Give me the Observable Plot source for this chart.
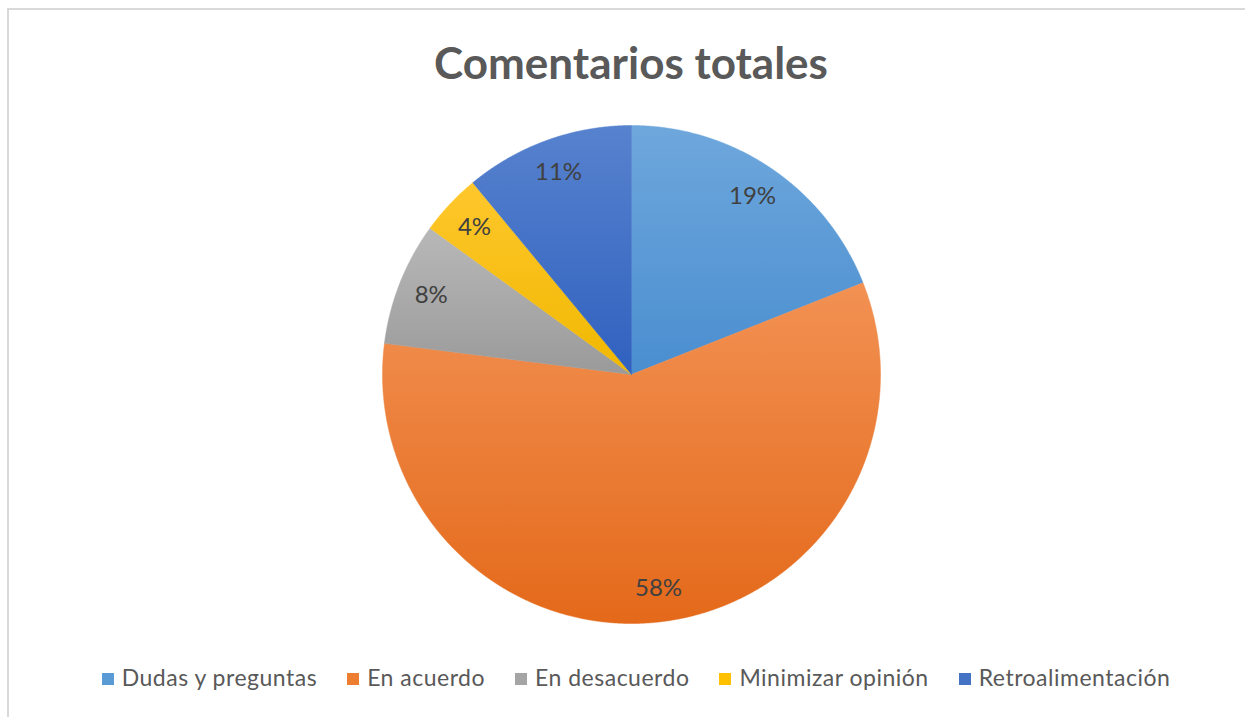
<!DOCTYPE html>
<html><head><meta charset="utf-8">
<script src="https://cdn.jsdelivr.net/npm/d3@7"></script>
<script src="https://cdn.jsdelivr.net/npm/@observablehq/plot@0.6"></script>
<style>
body{margin:0;background:#fff;font-family:Lato,"Open Sans",sans-serif;}
#wrap{position:relative;width:1245px;height:717px;overflow:hidden;background:#fff;}
#frame{position:absolute;left:7px;top:8px;width:1300px;height:800px;border-left:2px solid #d9d9d9;border-top:2px solid #d9d9d9;}
#title{position:absolute;top:40px;left:0;width:1262px;text-align:center;font-weight:bold;font-size:44px;line-height:44px;color:#595959;}
#chart{position:absolute;left:0;top:100px;}
#legend{position:absolute;top:666px;left:0;width:1272px;display:flex;justify-content:center;gap:30px;font-size:23px;line-height:23px;letter-spacing:0.5px;color:#595959;}
#legend .item{display:flex;align-items:center;gap:8px;white-space:nowrap;}
#legend .sw{width:12px;height:12px;display:inline-block;margin-top:2px;}
</style>
</head><body>
<div id="wrap">
  <div id="frame"></div>
  <div id="title">Comentarios totales</div>
  <div id="chart"></div>
  <div id="legend"></div>
</div>
<script>
const categories = ["Dudas y preguntas", "En acuerdo", "En desacuerdo", "Minimizar opinión", "Retroalimentación"];
const values = [19, 58, 8, 4, 11];
const labels = ["19%", "58%", "8%", "4%", "11%"];
const colors = ["#5B9BD5", "#ED7D31", "#A5A5A5", "#FFC000", "#4472C4"];
const gradTop = ["#6EA7DC", "#F29153", "#B8B8B8", "#FFC72C", "#5782CE"];
const gradBottom = ["#4A8ED0", "#E4691A", "#9A9A9A", "#F0B800", "#3061BF"];

const W = 1245, H = 560, CX = 631, CY = 274, R = 249;
const arcs = d3.pie().sort(null).value(d => d)(values);

function slicePoints(a, i) {
  const pts = [{x: 0, y: 0, i}];
  const n = Math.max(2, Math.ceil((a.endAngle - a.startAngle) / (Math.PI / 720)));
  for (let k = 0; k <= n; k++) {
    const t = a.startAngle + (a.endAngle - a.startAngle) * k / n;
    pts.push({x: R * Math.sin(t), y: R * Math.cos(t), i});
  }
  pts.push({x: 0, y: 0, i});
  return pts;
}
const circle = d3.range(0, 721).map(k => {
  const t = k / 720 * 2 * Math.PI;
  return {x: R * Math.sin(t), y: R * Math.cos(t)};
});
const labelData = arcs.map((a, i) => {
  const m = (a.startAngle + a.endAngle) / 2;
  return {x: 0.865 * R * Math.sin(m), y: 0.865 * R * Math.cos(m), text: labels[i]};
});

const marks = [
  Plot.line(circle, {x: "x", y: "y", fill: "#000", fillOpacity: 0.3, stroke: "none", dx: 2, dy: 3, ariaLabel: "shadow"})
];
arcs.forEach((a, i) => {
  marks.push(Plot.line(slicePoints(a, i), {x: "x", y: "y", fill: `url(#grad${i})`, stroke: `url(#grad${i})`, strokeWidth: 0.5, curve: "linear"}));
});
marks.push(Plot.text(labelData, {x: "x", y: "y", text: "text", fontSize: 24, fill: "#404040", fontFamily: "Lato, sans-serif", textAnchor: "middle", lineAnchor: "middle"}));

const svg = Plot.plot({
  width: W, height: H,
  margin: 0,
  x: {domain: [-CX, W - CX], range: [0, W], axis: null},
  y: {domain: [-(H - CY), CY], range: [H, 0], axis: null},
  style: {background: "transparent", overflow: "visible"},
  marks
});

const ns = "http://www.w3.org/2000/svg";
const defs = document.createElementNS(ns, "defs");
colors.forEach((c, i) => {
  const g = document.createElementNS(ns, "linearGradient");
  g.setAttribute("id", `grad${i}`);
  g.setAttribute("x1", "0"); g.setAttribute("y1", "0");
  g.setAttribute("x2", "0"); g.setAttribute("y2", "1");
  [[0, gradTop[i]], [1, gradBottom[i]]].forEach(([o, col]) => {
    const s = document.createElementNS(ns, "stop");
    s.setAttribute("offset", o);
    s.setAttribute("stop-color", col);
    g.appendChild(s);
  });
  defs.appendChild(g);
});
svg.insertBefore(defs, svg.firstChild);
const sh = svg.querySelector('[aria-label="shadow"]');
if (sh) sh.style.filter = "blur(3px)";
document.getElementById("chart").appendChild(svg);

const legend = document.getElementById("legend");
categories.forEach((c, i) => {
  const it = document.createElement("div");
  it.className = "item";
  const sw = document.createElement("span");
  sw.className = "sw";
  sw.style.background = colors[i];
  const t = document.createElement("span");
  t.textContent = c;
  it.appendChild(sw); it.appendChild(t);
  legend.appendChild(it);
});
</script>
</body></html>
